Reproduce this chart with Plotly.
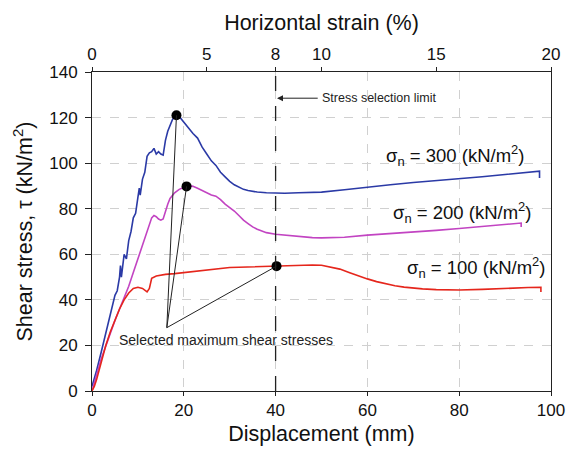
import plotly.graph_objects as go

# ---- data ----
blue_x = [0, 0.5, 1, 2, 3, 4, 5, 5.5, 6, 6.2, 6.4, 7, 7.5, 8, 8.5, 9, 9.5, 10, 10.3, 10.5, 11, 11.5, 12, 12.5, 13, 13.5, 14, 14.5, 15, 15.5, 16, 16.5, 17, 17.5, 18, 18.4,
          19, 20, 21, 22, 23, 24, 25, 26, 27, 28, 29, 30, 31, 32, 33, 34, 35, 36, 38, 40, 42, 45, 50, 55, 60, 65, 70, 75, 80, 85, 90, 95, 97.5, 97.5]
blue_y = [2, 5, 9, 17, 25, 33, 42, 44, 50, 55, 50, 60, 58, 66, 70, 76, 78, 85, 89, 86, 93, 96, 103, 104.5, 105, 106.5, 104, 105, 104, 103.5, 110, 114, 117, 119, 120.5, 121,
          120.5, 118, 115, 113, 111, 107, 104, 101, 99, 96, 94, 92, 90.5, 89.5, 88.5, 88, 87.5, 87.3, 87, 86.9, 86.8, 87, 87.3, 88.3, 89.5, 90.5, 91.5, 92.3, 93, 94, 95, 96, 96.5, 93.5]

mag_x = [0, 0.5, 1, 2, 3, 4, 5, 6, 7, 8, 9, 10, 11, 12, 12.5, 13, 13.5, 14, 14.5, 15, 15.5, 16, 16.5, 17, 18, 19, 20, 20.6, 21.5, 22, 23, 24, 25, 26, 27, 28, 29, 30,
         31, 32, 33, 34, 35, 36, 38, 40, 42, 45, 48, 50, 55, 60, 65, 70, 75, 80, 85, 90, 93.5, 93.5]
mag_y = [0, 3, 7, 14, 20, 26, 31, 36, 41, 46, 52, 58, 65, 71, 74, 76, 77, 76.5, 75.5, 75, 75.5, 79, 82, 84.5, 87, 88.5, 89.5, 89.8, 90, 89.8, 89, 88, 87, 86, 85.5, 84, 82, 80.5,
         79, 77, 75, 73.5, 72, 71, 69.5, 68.8, 68.4, 67.8, 67.3, 67.2, 67.5, 68.4, 69, 69.8, 70.5, 71.3, 72.2, 73.2, 73.7, 72]

red_x = [0, 0.5, 1, 2, 3, 4, 5, 6, 7, 8, 9, 10, 11, 12, 12.5, 13, 14, 15, 16, 18, 20, 22, 24, 26, 28, 30, 32, 35, 38, 40.2, 42, 45, 48, 50, 52, 54, 56, 58, 60,
         62, 64, 66, 68, 70, 72, 75, 78, 80, 85, 90, 95, 97.8, 97.8]
red_y = [0, 2, 5, 13, 20, 26, 31, 36, 40, 43, 45, 45.5, 45, 43.5, 45, 49.5, 50.5, 51, 51.2, 51.5, 52, 52.5, 53, 53.5, 54, 54.2, 54.3, 54.5, 54.7, 54.8, 55.2, 55.3, 55.3, 55.2, 54.5, 53.5, 52, 50.5, 49.2,
         48, 47, 46.2, 45.6, 45.1, 44.8, 44.5, 44.3, 44.3, 44.6, 45.1, 45.4, 45.5, 43.5]

peak_x = [18.4, 20.6, 40.2]
peak_y = [121, 89.8, 54.8]
leader_origin = (16.3, 27.8)
selection_limit = 40

series_labels = ["σ<sub>n</sub> = 300 (kN/m<sup>2</sup>)", "σ<sub>n</sub> = 200 (kN/m<sup>2</sup>)", "σ<sub>n</sub> = 100 (kN/m<sup>2</sup>)"]
label_pos = [(79, 103.5), (80.5, 78.5), (83.6, 54)]

strain_ticks = [0, 5, 8, 10, 15, 20]
disp_ticks = [0, 20, 40, 60, 80, 100]
stress_ticks = [0, 20, 40, 60, 80, 100, 120, 140]

FONT = "Liberation Sans, Arial, Helvetica, sans-serif"

fig = go.Figure()
fig.add_trace(go.Scatter(x=blue_x, y=blue_y, mode="lines", line=dict(color="#2b3aa6", width=1.6), showlegend=False))
fig.add_trace(go.Scatter(x=mag_x, y=mag_y, mode="lines", line=dict(color="#c244c2", width=1.6), showlegend=False))
fig.add_trace(go.Scatter(x=red_x, y=red_y, mode="lines", line=dict(color="#e5261c", width=1.6), showlegend=False))

# leader lines
for px, py in zip(peak_x, peak_y):
    fig.add_shape(type="line", x0=leader_origin[0], y0=leader_origin[1], x1=px, y1=py,
                  line=dict(color="#222222", width=1), xref="x", yref="y")

fig.add_trace(go.Scatter(x=peak_x, y=peak_y, mode="markers", marker=dict(color="black", size=10), showlegend=False))
# invisible trace to activate the top axis
fig.add_trace(go.Scatter(x=[0, 20], y=[None, None], xaxis="x2", mode="lines", showlegend=False, hoverinfo="skip"))

# vertical selection line
fig.add_shape(type="line", x0=selection_limit, x1=selection_limit, y0=0, y1=140, xref="x", yref="y",
              line=dict(color="#222222", width=1.3, dash="longdash"))

fig.add_annotation(x=selection_limit + 0.3, y=128.5, ax=selection_limit + 9.5, ay=128.5, axref="x", ayref="y",
                   xref="x", yref="y", text="", showarrow=True, arrowhead=2, arrowsize=1.2, arrowwidth=1, arrowcolor="#222222")
fig.add_annotation(x=selection_limit + 9.7, y=128.5, xref="x", yref="y", text="Stress selection limit", showarrow=False,
                   xanchor="left", yanchor="middle", font=dict(family=FONT, size=12.5, color="#222222"))
fig.add_annotation(x=5.5, y=22.5, xref="x", yref="y", text="Selected maximum shear stresses", showarrow=False,
                   xanchor="left", yanchor="middle", font=dict(family=FONT, size=14, color="#222222"))

for txt, (lx, ly) in zip(series_labels, label_pos):
    fig.add_annotation(x=lx, y=ly, xref="x", yref="y", text=txt, showarrow=False,
                       xanchor="center", yanchor="middle", font=dict(family=FONT, size=18.5, color="#111111"))

fig.update_layout(
    width=566, height=451,
    margin=dict(l=92, r=15, t=72, b=60, autoexpand=False),
    paper_bgcolor="white", plot_bgcolor="white",
    font=dict(family=FONT, color="#111111"),
    xaxis=dict(range=[0, 100], tickvals=disp_ticks, showgrid=True, gridcolor="#d0d0d0", griddash="dash", gridwidth=1,
               showline=True, linecolor="#222222", linewidth=1, ticks="outside", ticklen=4, tickcolor="#222222",
               tickfont=dict(size=17), zeroline=False, automargin=False,
               title=dict(text="Displacement (mm)", font=dict(size=21.5), standoff=6)),
    xaxis2=dict(range=[0, 20], tickvals=strain_ticks, overlaying="x", side="top", showgrid=False,
                showline=True, linecolor="#222222", linewidth=1, ticks="outside", ticklen=4, tickcolor="#222222",
                tickfont=dict(size=17), zeroline=False, automargin=False,
                title=dict(text="Horizontal strain (%)", font=dict(size=21.5), standoff=8)),
    yaxis=dict(range=[0, 140], tickvals=stress_ticks, showgrid=True, gridcolor="#d0d0d0", griddash="dash", gridwidth=1,
               showline=True, linecolor="#222222", linewidth=1, mirror=True, ticks="outside", ticklen=6, tickcolor="#222222",
               tickfont=dict(size=17), zeroline=False, automargin=False, ticklabelstandoff=4,
               title=dict(text="Shear stress, τ (kN/m<sup>2</sup>)", font=dict(size=21.5), standoff=10)),
)

fig.write_html("out.html")
